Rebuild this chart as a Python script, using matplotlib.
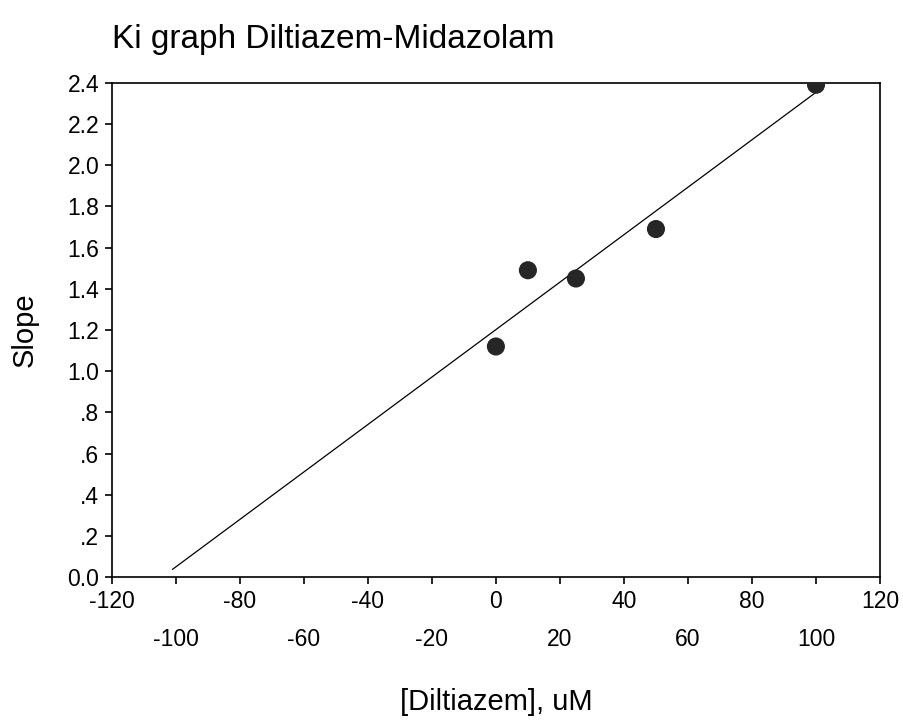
import numpy as np
import matplotlib.pyplot as plt

plt.rcParams['font.family'] = ['Liberation Sans', 'DejaVu Sans']

# diltiazem concentration (uM) vs slope
conc = [0, 10, 25, 50, 100]
slope = [1.12, 1.49, 1.45, 1.69, 2.39]

# regression line drawn over this x range
fit_range = [-101, 100]

xticks = list(range(-120, 121, 20))
yticks = [0.0, 0.2, 0.4, 0.6, 0.8, 1.0, 1.2, 1.4, 1.6, 1.8, 2.0, 2.2, 2.4]
ytick_labels = ['0.0', '.2', '.4', '.6', '.8', '1.0', '1.2', '1.4', '1.6', '1.8', '2.0', '2.2', '2.4']

fig = plt.figure(figsize=(9.04, 7.23), dpi=100)
ax = fig.add_axes([0.1236, 0.2015, 0.8499, 0.6841])

# least squares fit
m, b = np.polyfit(conc, slope, 1)
fx = np.array(fit_range)
ax.plot(fx, m * fx + b, color='black', lw=0.9)

ax.scatter(conc, slope, s=170, color='#262626', edgecolors='none', zorder=3)

ax.set_xlim(-120, 120)
ax.set_ylim(0, 2.4)

# alternate x tick labels on two rows
xlabels = []
for i, t in enumerate(xticks):
    if i % 2 == 0:
        xlabels.append(str(t))
    else:
        xlabels.append('\n' + str(t))
ax.set_xticks(xticks)
ax.set_xticklabels(xlabels)
for lbl in ax.get_xticklabels():
    lbl.set_linespacing(1.85)

ax.set_yticks(yticks)
ax.set_yticklabels(ytick_labels)

ax.tick_params(direction='out', length=5, width=1.2, labelsize=16.5, pad=4)
for sp in ax.spines.values():
    sp.set_linewidth(1.2)

ax.set_ylabel('Slope', fontsize=21)
ax.yaxis.set_label_coords(-0.095, 0.5)
ax.set_xlabel('[Diltiazem], uM', fontsize=21)
ax.xaxis.set_label_coords(0.5, -0.224)

fig.text(0.124, 0.933, 'Ki graph Diltiazem-Midazolam', fontsize=24, va='baseline', ha='left')

fig.savefig('out.png', dpi=100)
